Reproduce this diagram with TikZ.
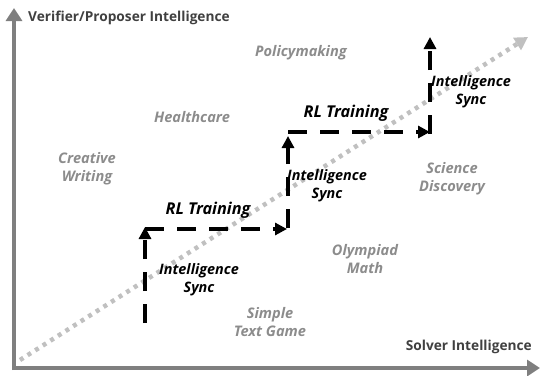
\documentclass[tikz,border=0pt]{standalone}
\usepackage{fontspec}
\setmainfont{Open Sans}
\usetikzlibrary{arrows.meta}
\definecolor{axisgray}{HTML}{7F7F7F}
\definecolor{axistext}{HTML}{404040}
\definecolor{domgray}{HTML}{8C8C8C}
\definecolor{diaggray}{HTML}{C0C0C0}
\tikzset{
  axisline/.style={draw=axisgray, line width=4.5pt, -{Triangle[length=13pt,width=16pt]}},
  axislabel/.style={text=axistext, font=\fontsize{13.7}{14}\selectfont\bfseries, inner sep=0pt},
  domlabel/.style={text=domgray, font=\fontsize{14.6}{18}\selectfont\bfseries\itshape, align=center, inner sep=0pt},
  steplabel/.style={text=black, font=\fontsize{14.4}{18}\selectfont\bfseries\itshape, align=center, inner sep=0pt},
  rllabel/.style={text=black, font=\fontsize{16.3}{18}\selectfont\bfseries\itshape, inner sep=0pt},
  stepline/.style={draw=black, line width=4pt, dash pattern=on 19pt off 13pt, -{Triangle[length=12pt,width=12pt]}},
  diagline/.style={draw=diaggray, line width=4.5pt, dash pattern=on 4pt off 5pt, -{Triangle[length=13pt,width=14pt]}},
}
\begin{document}
\begin{tikzpicture}[x=1pt,y=-1pt]
\useasboundingbox (0,0) rectangle (540,375);
% axes
\coordinate (Ytop) at (14,8);
\coordinate (Xend) at (540,368);
\coordinate (Ostart) at (14,370);
\coordinate (Xstart) at (12,368);
\draw[axisline] (Ostart) -- (Ytop);
\draw[axisline] (Xstart) -- (Xend);
\node[axislabel, anchor=west] (ylab) at (28,18) {Verifier/Proposer Intelligence};
\node[axislabel, anchor=east] (xlab) at (532,347) {Solver Intelligence};
% diagonal
\coordinate (D0) at (20,360);
\coordinate (D1) at (528,37);
\draw[diagline] (D0) -- (D1);
% domains
\node[domlabel] (pol) at (301,53) {Policymaking};
\node[domlabel] (hc) at (192,117) {Healthcare};
\node[domlabel] (cw) at (87,169) {Creative\\Writing};
\node[domlabel] (sd) at (452,179) {Science\\Discovery};
\node[domlabel] (om) at (365,259) {Olympiad\\Math};
\node[domlabel] (st) at (270,322) {Simple\\Text Game};
% steps
\coordinate (A) at (145,323);
\coordinate (B) at (145,227);
\coordinate (B2) at (145,229);
\coordinate (C) at (287,229);
\coordinate (C2) at (288,228);
\coordinate (D) at (288,136);
\coordinate (D2) at (288,132);
\coordinate (E) at (430,132);
\coordinate (E2) at (430,134);
\coordinate (F) at (430,37);
\draw[stepline] (A) -- (B);
\draw[stepline] (B2) -- (C);
\draw[stepline] (C2) -- (D);
\draw[stepline] (D2) -- (E);
\draw[stepline] (E2) -- (F);
\node[rllabel] (rl1) at (208,210) {RL Training};
\node[rllabel] (rl2) at (346,113) {RL Training};
\node[steplabel] (is1) at (199,280) {Intelligence\\Sync};
\node[steplabel] (is2) at (327,186) {Intelligence\\Sync};
\node[steplabel] (is3) at (471,92) {Intelligence\\Sync};
\end{tikzpicture}
\end{document}
